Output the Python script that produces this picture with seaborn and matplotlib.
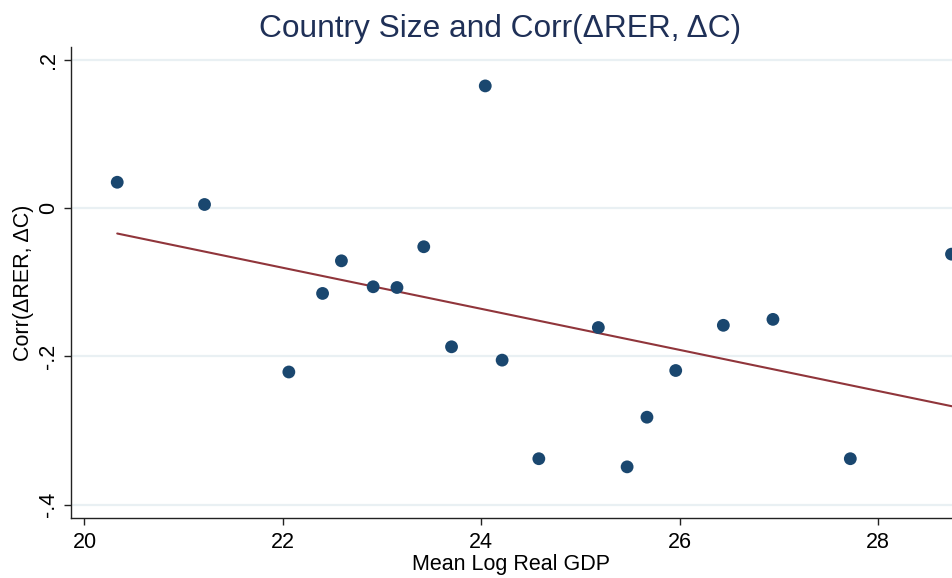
import matplotlib
matplotlib.use("Agg")
import matplotlib.pyplot as plt
import seaborn as sns
import numpy as np
import pandas as pd

# mean log real GDP and Corr(dRER, dC) per country
log_gdp = [20.33, 21.21, 22.06, 22.40, 22.59, 22.91, 23.15, 23.42, 23.70, 24.04,
           24.21, 24.58, 25.18, 25.47, 25.67, 25.96, 26.44, 26.94, 27.72, 28.74]
corr_rer_c = [0.035, 0.005, -0.221, -0.115, -0.071, -0.106, -0.107, -0.052, -0.187, 0.165,
              -0.205, -0.338, -0.161, -0.349, -0.282, -0.219, -0.158, -0.150, -0.338, -0.062]

# linear fit as drawn in the chart
fit_intercept = 0.529
fit_slope = -0.0277

x_ticks = [20, 22, 24, 26, 28]
y_ticks = [-0.4, -0.2, 0, 0.2]
y_tick_labels = ["-.4", "-.2", "0", ".2"]

navy = "#1a476f"
maroon = "#90353b"

sns.set_style("white")
plt.rcParams["font.family"] = ["Liberation Sans", "DejaVu Sans"]

df = pd.DataFrame({"gdp": log_gdp, "corr": corr_rer_c})
fit_x = np.array([min(log_gdp), 29.5])
fit_df = pd.DataFrame({"gdp": fit_x, "fit": fit_intercept + fit_slope * fit_x})

fig = plt.figure(figsize=(9.52, 5.78), dpi=100)
ax = fig.add_axes([71 / 952, 60 / 578, 881 / 952, 471 / 578])

# grid lines
for yv in y_ticks:
    ax.axhline(yv, color="#e9f0f3", lw=1.6, zorder=0)

sns.lineplot(data=fit_df, x="gdp", y="fit", color=maroon, lw=1.5, ax=ax, zorder=2)
sns.scatterplot(data=df, x="gdp", y="corr", color=navy, s=85, edgecolor="none",
                ax=ax, zorder=3, clip_on=False)

ax.set_xlim(19.864, 28.745)
ax.set_ylim(-0.418, 0.2175)
ax.set_xticks(x_ticks)
ax.set_yticks(y_ticks)
ax.set_yticklabels(y_tick_labels)

for side in ["top", "right"]:
    ax.spines[side].set_visible(False)
for side in ["left", "bottom"]:
    ax.spines[side].set_color("#222222")
    ax.spines[side].set_linewidth(1.0)

ax.tick_params(axis="both", direction="out", length=5, width=1, color="#222222",
               labelsize=15.5, labelcolor="black", bottom=True, left=True)
ax.tick_params(axis="x", pad=5)
for lab in ax.get_yticklabels():
    lab.set_rotation(90)
    lab.set_va("center")
    lab.set_ha("center")
ax.tick_params(axis="y", pad=11)

ax.set_xlabel("Mean Log Real GDP", fontsize=15.5, labelpad=1, color="black")
ax.set_ylabel("Corr(ΔRER, ΔC)", fontsize=15.5, labelpad=3, color="black")

fig.text(500 / 952, 1 - 29 / 578, "Country Size and Corr(ΔRER, ΔC)",
         ha="center", va="center", fontsize=22.8, color="#1f3057")

fig.savefig("out.png", dpi=100)
